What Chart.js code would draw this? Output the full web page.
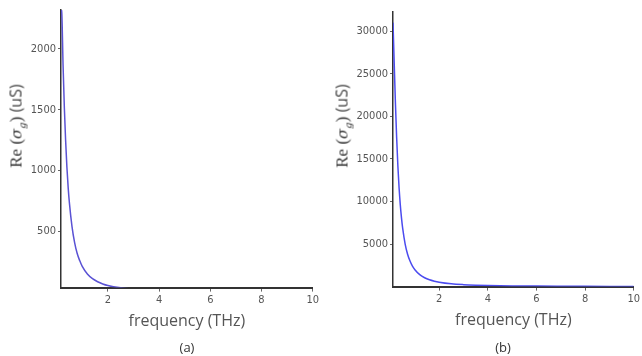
<!DOCTYPE html>
<html>
<head>
<meta charset="utf-8">
<script src="https://cdn.jsdelivr.net/npm/chart.js@4/dist/chart.umd.min.js"></script>
<style>
  body { margin: 0; background: #fff; }
  .panel { position: absolute; top: 0; width: 321px; height: 356px; }
  .panel canvas { position: absolute; left: 0; top: 0; }
  .ytitle {
    position: absolute; white-space: nowrap; color: #333;
    transform: translate(-50%, -50%) rotate(-90deg);
    font-family: "Liberation Serif", serif; font-size: 17px;
  }
  .ytitle i { font-family: "DejaVu Serif", serif; font-size: 15px; }
  .ytitle sub { font-size: 10px; }
  .ytitle .u { font-family: "Open Sans", sans-serif; font-size: 16px; color: #444; }
  .caption { position: absolute; top: 338px; font-family: "Open Sans", sans-serif; font-size: 13px; color: #333; transform: translateX(-50%); }
</style>
</head>
<body>
<div class="panel" style="left:0">
  <canvas id="chartA" width="321" height="356"></canvas>
  <div class="ytitle" style="left:16px; top:126px">Re (<i>σ<sub>g</sub></i>) <span class="u">(uS)</span></div>
  <div class="caption" style="left:187px">(a)</div>
</div>
<div class="panel" style="left:321px">
  <canvas id="chartB" width="321" height="356"></canvas>
  <div class="ytitle" style="left:21px; top:126px">Re (<i>σ<sub>g</sub></i>) <span class="u">(uS)</span></div>
  <div class="caption" style="left:182px">(b)</div>
</div>
<script>
// panel (a): frequency (THz) and Re(sigma_g) in uS
const freqA = [0.17, 0.2, 0.25, 0.3, 0.35, 0.4, 0.45, 0.5, 0.6, 0.7, 0.8, 0.9, 1.0, 1.2, 1.4, 1.6, 1.8, 2.0, 2.5, 3.0, 3.5, 4, 5, 6, 7, 8, 9, 10];
const reA   = [2330, 2300, 1870, 1520, 1250, 1030, 860, 730, 540, 410, 320, 260, 212, 150, 111, 86, 68, 55, 36, 25, 18, 14, 9, 6, 5, 4, 3, 2];

// panel (b)
const freqB = [0.1, 0.15, 0.2, 0.25, 0.3, 0.35, 0.4, 0.45, 0.5, 0.6, 0.7, 0.8, 0.9, 1.0, 1.2, 1.4, 1.6, 1.8, 2.0, 2.5, 3.0, 3.5, 4, 5, 6, 7, 8, 9, 10];
const reB   = [31000, 26200, 21500, 17500, 14200, 11600, 9600, 8050, 6800, 5000, 3800, 3000, 2400, 1980, 1400, 1040, 800, 640, 520, 330, 230, 170, 130, 84, 58, 43, 33, 26, 21];

const xTicks  = [2, 4, 6, 8, 10];
const yTicksA = [500, 1000, 1500, 2000];
const yTicksB = [5000, 10000, 15000, 20000, 25000, 30000];

function makeChart(id, freq, re, opts) {
    const ctx = document.getElementById(id).getContext('2d');
    return new Chart(ctx, {
        type: 'scatter',
        data: {
            datasets: [{
                data: freq.map((f, i) => ({ x: f, y: re[i] })),
                showLine: true,
                borderColor: opts.color,
                borderWidth: 1.5,
                pointRadius: 0,
                cubicInterpolationMode: 'monotone'
            }]
        },
        options: {
            responsive: false,
            animation: false,
            layout: { padding: { left: 0, right: 7, top: opts.top, bottom: opts.bottom } },
            plugins: { legend: { display: false }, tooltip: { enabled: false } },
            scales: {
                x: {
                    type: 'linear', min: opts.xmin, max: 10,
                    afterBuildTicks: s => { s.ticks = xTicks.map(v => ({ value: v })); },
                    grid: { drawOnChartArea: false, drawTicks: true, tickLength: 4, color: '#666' },
                    border: { display: true, color: '#333', width: 2 },
                    ticks: { color: '#555', padding: 2, callback: v => String(v),
                             font: { family: 'DejaVu Sans Condensed', size: 11 } },
                    title: { display: true, text: 'frequency (THz)', color: '#555', padding: { top: 3, bottom: 0 },
                             font: { family: 'Open Sans', size: 16 } }
                },
                y: {
                    type: 'linear', min: opts.ymin, max: opts.ymax,
                    afterBuildTicks: s => { s.ticks = opts.yTicks.map(v => ({ value: v })); },
                    afterFit: s => { s.width = opts.yWidth; },
                    grid: { drawOnChartArea: false, drawTicks: true, tickLength: 3, color: '#666' },
                    border: { display: true, color: '#333', width: 1.5 },
                    ticks: { color: '#555', padding: 2, callback: v => String(v),
                             font: { family: 'DejaVu Sans Condensed', size: 11 } }
                }
            }
        }
    });
}

makeChart('chartA', freqA, reA, { color: '#5a52d4', xmin: 0.17, ymin: 38, ymax: 2320, yTicks: yTicksA, yWidth: 61, top: 10, bottom: 25 });
makeChart('chartB', freqB, reB, { color: '#4b4bef', xmin: 0.1, ymin: 0, ymax: 32250, yTicks: yTicksB, yWidth: 72, top: 12, bottom: 26 });
</script>
</body>
</html>
